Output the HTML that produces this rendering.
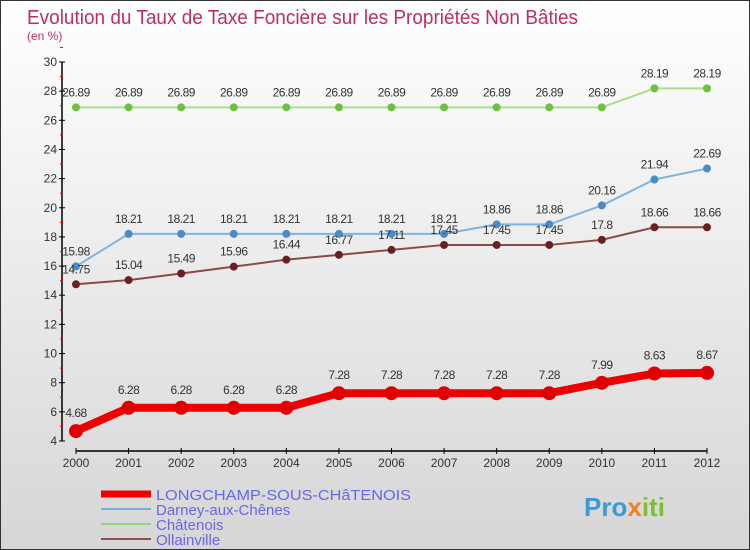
<!DOCTYPE html>
<html><head><meta charset="utf-8"><style>
body{margin:0}
#c{width:750px;height:550px;position:relative;font-family:"Liberation Sans",sans-serif;background:linear-gradient(#ffffff,#d6d6d6);box-sizing:border-box;border:1px solid #333;overflow:hidden}
</style></head><body>
<div id="c">
<svg id="s" width="750" height="550" style="position:absolute;left:0;top:0">
<text x="26" y="23" font-size="20" fill="#c0305a" textLength="551" lengthAdjust="spacingAndGlyphs">Evolution du Taux de Taxe Foncière sur les Propriétés Non Bâties</text>
<text x="26" y="39" font-size="12" fill="#c0305a">(en %)</text>
<g id="axes"></g><g id="series"></g>
<g>
<line x1="100" y1="493" x2="150" y2="493" stroke="#e00" stroke-width="7"/>
<text x="155" y="499" font-size="15" fill="#6666ee" textLength="255" lengthAdjust="spacingAndGlyphs">LONGCHAMP-SOUS-CHâTENOIS</text>
<line x1="100" y1="508" x2="150" y2="508" stroke="#7ab0d8" stroke-width="2"/>
<text x="155" y="514" font-size="15" fill="#6666ee">Darney-aux-Chênes</text>
<line x1="100" y1="523" x2="150" y2="523" stroke="#90d870" stroke-width="2"/>
<text x="155" y="529" font-size="15" fill="#6666ee">Châtenois</text>
<line x1="100" y1="538" x2="150" y2="538" stroke="#8a5050" stroke-width="2"/>
<text x="155" y="544" font-size="15" fill="#6666ee">Ollainville</text>
</g>
<text x="583" y="515" font-size="26" font-weight="bold" fill="#3a9ad8">Pro<tspan fill="#f08020">x</tspan><tspan fill="#7ac030">iti</tspan></text>
</svg>
</div>
<script>
const years=[2000,2001,2002,2003,2004,2005,2006,2007,2008,2009,2010,2011,2012];
const yTicks=[4,6,8,10,12,14,16,18,20,22,24,26,28,30];
const longchamp=[4.68,6.28,6.28,6.28,6.28,7.28,7.28,7.28,7.28,7.28,7.99,8.63,8.67];
const darney=[15.98,18.21,18.21,18.21,18.21,18.21,18.21,18.21,18.86,18.86,20.16,21.94,22.69];
const chatenois=[26.89,26.89,26.89,26.89,26.89,26.89,26.89,26.89,26.89,26.89,26.89,28.19,28.19];
const ollainville=[14.75,15.04,15.49,15.96,16.44,16.77,17.11,17.45,17.45,17.45,17.8,18.66,18.66];
const NS="http://www.w3.org/2000/svg";
const X=i=>75+i*(706-75)/12;
const Y=v=>61+(30-v)*(440-61)/26;
function mk(p,t,a){const e=document.createElementNS(NS,t);for(const k in a)e.setAttribute(k,a[k]);p.appendChild(e);return e;}
const ax=document.getElementById('axes');
let l=mk(ax,'line',{x1:61,y1:Y(30),x2:61,y2:Y(4),stroke:'#000','stroke-width':1.5});


l=mk(ax,'line',{x1:75,y1:450,x2:706,y2:450,stroke:'#000','stroke-width':1.5});


yTicks.forEach(v=>{mk(ax,'line',{x1:58,y1:Y(v),x2:64,y2:Y(v),stroke:'#000'});
mk(ax,'line',{x1:59,y1:Y(v+1),x2:62,y2:Y(v+1),stroke:'#e00'});
const t=mk(ax,'text',{x:56,y:Y(v)+4,'font-size':12,'text-anchor':'end',fill:'#333'});t.textContent=v;

});
years.forEach((y,i)=>{mk(ax,'line',{x1:X(i),y1:447,x2:X(i),y2:453,stroke:'#000'});
const t=mk(ax,'text',{x:X(i),y:466,'font-size':12,'text-anchor':'middle',fill:'#333'});t.textContent=y;

});
const sg=document.getElementById('series');
function draw(d,col,dot,w,r,name){
const g=mk(sg,'g',{});


mk(g,'polyline',{points:d.map((v,i)=>X(i)+','+Y(v)).join(' '),fill:'none',stroke:col,'stroke-width':w,'stroke-linejoin':'round'});
d.forEach((v,i)=>{const c=mk(g,'circle',{cx:X(i),cy:Y(v),r:r,fill:dot});


const t=mk(g,'text',{x:X(i),y:Y(v)-(r+7),'font-size':12,'text-anchor':'middle',fill:'#333','letter-spacing':'-0.5'});t.textContent=v;

});}
draw(chatenois,'#a8e090','#70c040',2,4,'series-chatenois');
draw(darney,'#80b4dc','#4a8cc8',2,4,'series-darney');
draw(ollainville,'#8a4a4a','#6a2020',2,4,'series-ollainville');
draw(longchamp,'#ee0000','#e00000',8,7,'series-longchamp');
</script>
</body></html>
